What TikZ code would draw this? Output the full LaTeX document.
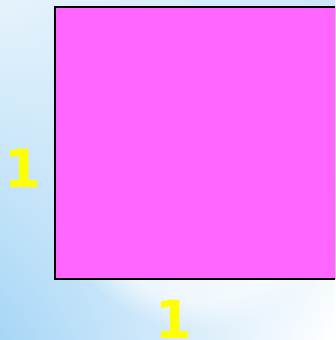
\documentclass[tikz,border=0pt]{standalone}
\usepackage{fontspec}
\newfontfamily\labelfont{DejaVu Sans}
\usetikzlibrary{positioning, shadings, fadings}
\definecolor{skyBlue}{HTML}{A6D6F6}
\definecolor{paleBlue}{HTML}{E6F3FC}
\definecolor{topBlue}{HTML}{CDE7F8}
\definecolor{squareFill}{HTML}{FF66FF}
\definecolor{sideYellow}{HTML}{FFFF00}
\tikzset{
    sidelabel/.style={font=\labelfont\bfseries\fontsize{45}{45}\selectfont, text=sideYellow, inner sep=0pt}
}

\begin{document}
\begin{tikzpicture}[x=0.03cm, y=-0.03cm]
        % Background
        \useasboundingbox (0,0) rectangle (335,340);
        \clip (0,0) rectangle (335,340);
        \shade[upper left=paleBlue, upper right=topBlue, lower left=skyBlue, lower right=white] (0,0) rectangle (335,340);
        \fill[white, opacity=0.6, path fading=circle with fuzzy edge 20 percent] (200,180) circle (150);

        % Unit square
        \node[draw=black, line width=1.5pt, fill=squareFill, minimum width=281*0.03cm, minimum height=272*0.03cm, inner sep=0pt, anchor=north west] (square) at (54,6) {};

        % Side lengths
        \node[sidelabel] (leftSide) at (23,168) {1};
        \node[sidelabel] (bottomSide) at (174,319) {1};
    \end{tikzpicture}
\end{document}
